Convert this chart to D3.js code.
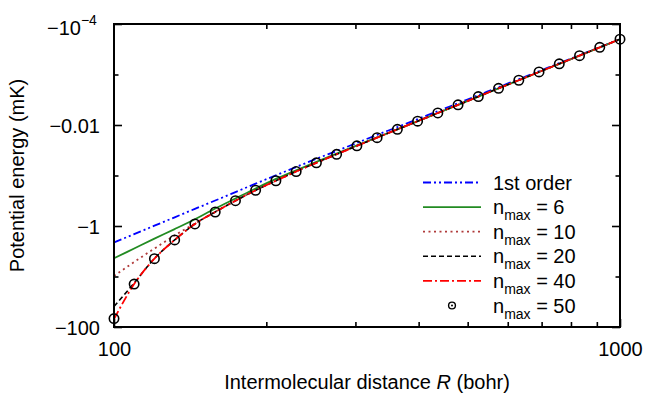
<!DOCTYPE html>
<html lang="en">
<head>
<meta charset="UTF-8">
<title>Potential energy vs intermolecular distance</title>
<style>
    body, html {
        margin: 0;
        padding: 0;
        background-color: #fff;
    }
    #svg {
        display: block;
        font-family: "Liberation Sans", Arial, Helvetica, sans-serif;
    }
</style>
</head>
<body>
<svg id="svg" width="654" height="394"></svg>
<script src="https://d3js.org/d3.v7.min.js"></script>
<script>
// intermolecular distance R (bohr)
const distance = [100, 109.6, 120.2, 131.8, 144.5, 158.5, 173.8, 190.5, 208.9, 229.1,
    251.2, 275.4, 302.0, 331.1, 363.1, 398.1, 436.5, 478.6, 524.8, 575.4,
    631.0, 691.8, 758.6, 831.8, 912.0, 1000]

// potential energy (mK)
const firstOrder = [-2.12, -1.45, -0.986, -0.673, -0.458, -0.313, -0.213, -0.145, -0.0991, -0.0679,
    -0.0467, -0.0326, -0.0226, -0.0157, -0.0110, -0.00764, -0.00533, -0.00370, -0.00257, -0.00178,
    -0.00124, -0.000861, -0.000597, -0.000415, -0.000288, -0.000200]
const nmax6 = [-4.36, -2.79, -1.78, -1.15, -0.733, -0.450, -0.285, -0.181, -0.117, -0.0789,
    -0.0536, -0.0368, -0.0254, -0.0176, -0.0122, -0.00841, -0.00578, -0.00398, -0.00274, -0.00188,
    -0.00130, -0.000891, -0.000614, -0.000423, -0.000290, -0.000200]
const nmax10 = [-9.78, -5.16, -2.79, -1.54, -0.891, -0.524, -0.316, -0.196, -0.127, -0.0834,
    -0.0561, -0.0380, -0.0259, -0.0178, -0.0122, -0.00841, -0.00578, -0.00398, -0.00274, -0.00188,
    -0.00130, -0.000891, -0.000614, -0.000423, -0.000290, -0.000200]
const nmax20 = [-39.3, -13.5, -4.40, -1.89, -0.912, -0.528, -0.316, -0.196, -0.127, -0.0834,
    -0.0561, -0.0380, -0.0259, -0.0178, -0.0122, -0.00841, -0.00578, -0.00398, -0.00274, -0.00188,
    -0.00130, -0.000891, -0.000614, -0.000423, -0.000290, -0.000200]
const nmax40 = [-70, -14.1, -4.44, -1.89, -0.912, -0.528, -0.316, -0.196, -0.127, -0.0834,
    -0.0561, -0.0380, -0.0259, -0.0178, -0.0122, -0.00841, -0.00578, -0.00398, -0.00274, -0.00188,
    -0.00130, -0.000891, -0.000614, -0.000423, -0.000290, -0.000200]
const nmax50 = [-68, -14.1, -4.44, -1.89, -0.912, -0.528, -0.316, -0.196, -0.127, -0.0834,
    -0.0561, -0.0380, -0.0259, -0.0178, -0.0122, -0.00841, -0.00578, -0.00398, -0.00274, -0.00188,
    -0.00130, -0.000891, -0.000614, -0.000423, -0.000290, -0.000200]

// ticks
const xMajor = [100, 1000]
const xMinor = [200, 300, 400, 500, 600, 700, 800, 900]
const yMajor = [-1e-4, -0.01, -1, -100]
const yMinor = [-1e-3, -0.1, -10]
const yLabels = ['\u221210', '\u22120.01', '\u22121', '\u2212100']

const legendNames = ['1st order', '6', '10', '20', '40', '50']

const margin = { top: 24, right: 34, bottom: 67, left: 114 }
const W = 654, H = 394
const fontSize = 20

const x = d3.scaleLog()
    .domain([100, 1000])
    .range([margin.left, W - margin.right])
const y = d3.scaleLog()
    .domain([-1e-4, -100])
    .range([margin.top, H - margin.bottom])

const svg = d3.select('#svg')

const lines = [
    { values: firstOrder, color: '#0000ff', dash: '8,3,2,3,2,3', width: 1.8 },
    { values: nmax6, color: '#228b22', dash: null, width: 1.8 },
    { values: nmax10, color: '#b03a3a', dash: '2,3.5', width: 1.8 },
    { values: nmax20, color: '#000000', dash: '5,3', width: 1.6 },
    { values: nmax40, color: '#ff0000', dash: '9,3,2,3', width: 1.8 },
]

const line = d3.line()
    .x(d => x(d[0]))
    .y(d => y(d[1]))
    .curve(d3.curveMonotoneX)

const plot = svg.append('g')
plot.selectAll('path.series')
    .data(lines)
    .enter()
    .append('path')
    .attr('class', 'series')
    .attr('d', s => line(distance.map((r, i) => [r, s.values[i]])))
    .attr('fill', 'none')
    .attr('stroke', s => s.color)
    .attr('stroke-width', s => s.width)
    .attr('stroke-dasharray', s => s.dash)

plot.selectAll('circle')
    .data(distance.map((r, i) => [r, nmax50[i]]))
    .enter()
    .append('circle')
    .attr('cx', d => x(d[0]))
    .attr('cy', d => y(d[1]))
    .attr('r', 4.7)
    .attr('fill', 'none')
    .attr('stroke', '#000')
    .attr('stroke-width', 1.6)

// axes, ticks pointing inward on all four sides
const x0 = margin.left, x1 = W - margin.right
const y0 = margin.top, y1 = H - margin.bottom

function styleAxis(g) {
    g.select('.domain').remove()
    g.selectAll('line').attr('stroke', '#000').attr('stroke-width', 1.6)
    g.selectAll('text').attr('font-size', fontSize).attr('font-family', null).attr('fill', '#000')
}

svg.append('g')
    .attr('transform', `translate(0, ${y1})`)
    .call(d3.axisBottom(x).tickValues(xMajor).tickSizeInner(-8).tickSizeOuter(0).tickPadding(14.3)
        .tickFormat(d3.format('d')))
    .call(styleAxis)
svg.append('g')
    .attr('transform', `translate(0, ${y1})`)
    .call(d3.axisBottom(x).tickValues(xMinor).tickSizeInner(-5).tickSizeOuter(0).tickFormat(''))
    .call(styleAxis)
svg.append('g')
    .attr('transform', `translate(0, ${y0})`)
    .call(d3.axisTop(x).tickValues(xMinor).tickSizeInner(-5).tickSizeOuter(0).tickFormat(''))
    .call(styleAxis)

const leftAxis = svg.append('g')
    .attr('transform', `translate(${x0}, 0)`)
    .call(d3.axisLeft(y).tickValues(yMajor).tickSizeInner(-8).tickSizeOuter(0).tickPadding(14)
        .tickFormat((d, i) => yLabels[i]))
    .call(styleAxis)
leftAxis.selectAll('text').attr('dy', '0.35em')
// -10^-4 with superscript
leftAxis.selectAll('.tick')
    .filter(d => d === -1e-4)
    .select('text')
    .attr('x', -32)
    .attr('dy', 10)
    .append('tspan')
    .attr('font-size', 14)
    .attr('dy', -10)
    .text('\u22124')
leftAxis.selectAll('.tick').filter(d => d === -1e-4).select('text').attr('text-anchor', 'start').attr('x', -67)

svg.append('g')
    .attr('transform', `translate(${x0}, 0)`)
    .call(d3.axisLeft(y).tickValues(yMinor).tickSizeInner(-4.5).tickSizeOuter(0).tickFormat(''))
    .call(styleAxis)
svg.append('g')
    .attr('transform', `translate(${x1}, 0)`)
    .call(d3.axisRight(y).tickValues(yMajor).tickSizeInner(-8).tickSizeOuter(0).tickFormat(''))
    .call(styleAxis)
svg.append('g')
    .attr('transform', `translate(${x1}, 0)`)
    .call(d3.axisRight(y).tickValues(yMinor).tickSizeInner(-4.5).tickSizeOuter(0).tickFormat(''))
    .call(styleAxis)

svg.append('rect')
    .attr('x', x0)
    .attr('y', y0)
    .attr('width', x1 - x0)
    .attr('height', y1 - y0)
    .attr('fill', 'none')
    .attr('stroke', '#000')
    .attr('stroke-width', 2)

// axis titles
const xTitle = svg.append('text')
    .attr('x', (x0 + x1) / 2)
    .attr('y', 389)
    .attr('text-anchor', 'middle')
    .attr('font-size', fontSize)
xTitle.append('tspan').text('Intermolecular distance ')
xTitle.append('tspan').attr('font-style', 'italic').text('R')
xTitle.append('tspan').text(' (bohr)')

svg.append('text')
    .attr('transform', `translate(24, ${(y0 + y1) / 2}) rotate(-90)`)
    .attr('text-anchor', 'middle')
    .attr('font-size', fontSize)
    .text('Potential energy (mK)')

// legend
const legend = svg.append('g')
const rowY = i => 182.5 + i * 24.6
const keyX0 = 423, keyX1 = 481, textX = 493

lines.forEach((s, i) => {
    legend.append('line')
        .attr('x1', keyX0).attr('x2', keyX1)
        .attr('y1', rowY(i)).attr('y2', rowY(i))
        .attr('stroke', s.color)
        .attr('stroke-width', s.width)
        .attr('stroke-dasharray', s.dash)
})
legend.append('circle')
    .attr('cx', 452).attr('cy', rowY(5))
    .attr('r', 3.4)
    .attr('fill', 'none').attr('stroke', '#000').attr('stroke-width', 1.4)
legend.append('circle')
    .attr('cx', 452).attr('cy', rowY(5))
    .attr('r', 1).attr('fill', '#000')

legendNames.forEach((name, i) => {
    const t = legend.append('text')
        .attr('x', textX)
        .attr('y', rowY(i) + 7)
        .attr('font-size', fontSize)
    if (i === 0) {
        t.text(name)
    } else {
        t.append('tspan').text('n')
        t.append('tspan').attr('font-size', 14).attr('dy', 6).text('max')
        t.append('tspan').attr('dy', -6).text(' = ' + name)
    }
})
</script>
</body>
</html>
